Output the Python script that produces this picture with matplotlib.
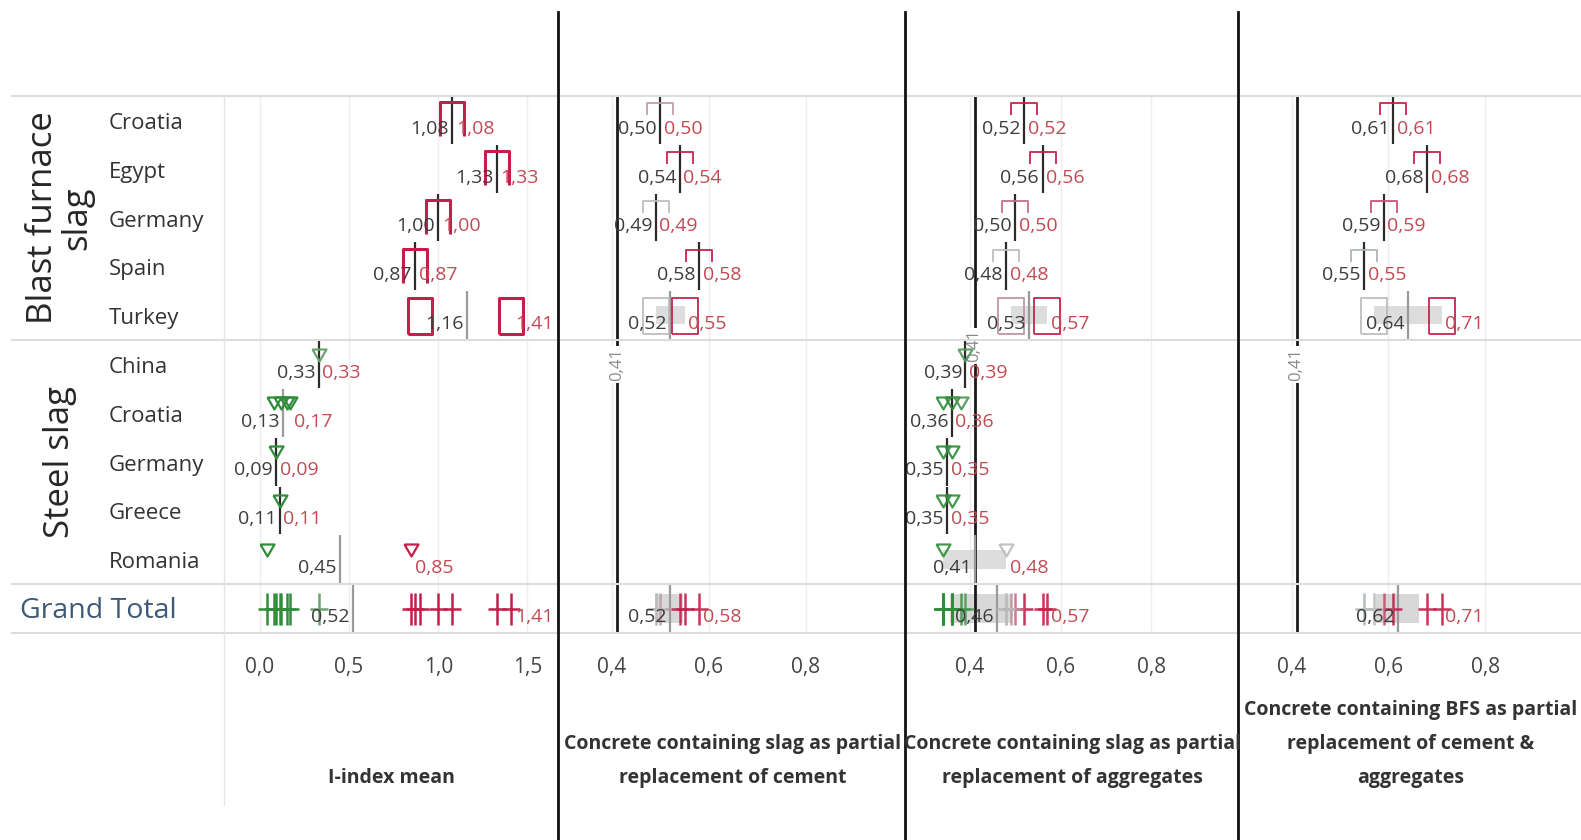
import numpy as np
import matplotlib
matplotlib.use("Agg")
import matplotlib.pyplot as plt
from matplotlib.path import Path
from matplotlib.colors import LinearSegmentedColormap, TwoSlopeNorm
from matplotlib.lines import Line2D
from matplotlib.ticker import FuncFormatter

W, H = 1581, 840
plt.rcParams["font.family"] = ["Open Sans", "DejaVu Sans"]

# ---------------------------------------------------------------- data
countries = ["Croatia", "Egypt", "Germany", "Spain", "Turkey",
             "China", "Croatia", "Germany", "Greece", "Romania"]
groups = ["Blast furnace\nslag", "Steel slag"]
group_sizes = [5, 5]
total_label = "Grand Total"

panel_titles = [
    "I-index mean",
    "Concrete containing slag as partial\nreplacement of cement",
    "Concrete containing slag as partial\nreplacement of aggregates",
    "Concrete containing BFS as partial\nreplacement of cement &\naggregates",
]

# individual study values, one list per country row
iindex_points = [[1.08], [1.33], [1.00], [0.87], [0.90, 1.41],
                 [0.33], [0.08, 0.12, 0.15, 0.17], [0.09], [0.11], [0.04, 0.85]]
cement_points = [[0.50], [0.54], [0.49], [0.58], [0.49, 0.55],
                 [], [], [], [], []]
aggregate_points = [[0.52], [0.56], [0.50], [0.48], [0.49, 0.57],
                    [0.39], [0.34, 0.36, 0.38], [0.34, 0.36], [0.34, 0.36], [0.34, 0.48]]
bfs_points = [[0.61], [0.68], [0.59], [0.55], [0.57, 0.71],
              [], [], [], [], []]

nan = np.nan
# mean (left label) and max (right label) per row, last entry = Grand Total
iindex_mean = [1.08, 1.33, 1.00, 0.87, 1.16, 0.33, 0.13, 0.09, 0.11, 0.45, 0.52]
iindex_max = [1.08, 1.33, 1.00, 0.87, 1.41, 0.33, 0.17, 0.09, 0.11, 0.85, 1.41]
cement_mean = [0.50, 0.54, 0.49, 0.58, 0.52, nan, nan, nan, nan, nan, 0.52]
cement_max = [0.50, 0.54, 0.49, 0.58, 0.55, nan, nan, nan, nan, nan, 0.58]
aggregate_mean = [0.52, 0.56, 0.50, 0.48, 0.53, 0.39, 0.36, 0.35, 0.35, 0.41, 0.46]
aggregate_max = [0.52, 0.56, 0.50, 0.48, 0.57, 0.39, 0.36, 0.35, 0.35, 0.48, 0.57]
bfs_mean = [0.61, 0.68, 0.59, 0.55, 0.64, nan, nan, nan, nan, nan, 0.62]
bfs_max = [0.61, 0.68, 0.59, 0.55, 0.71, nan, nan, nan, nan, nan, 0.71]

reference_value = 0.41

ticks_iindex = [0.0, 0.5, 1.0, 1.5]
ticks_concrete = [0.4, 0.6, 0.8]

# ---------------------------------------------------------------- layout (pixels)
ROW_TOP, ROW_BOTTOM = 96, 633
panel_x = [(224, 558), (560, 905), (907, 1238), (1240, 1581)]
panel_xlim = [(-0.202, 1.672), (0.2926, 1.005), (0.261, 0.991), (0.293, 0.998)]
# row position of the rotated reference-value label in each concrete panel
ref_label_row = [None, 5.0, 4.62, 5.0]
color_norms = [
    TwoSlopeNorm(vmin=0.20, vcenter=0.50, vmax=0.85),
    TwoSlopeNorm(vmin=0.30, vcenter=0.49, vmax=0.54),
    TwoSlopeNorm(vmin=0.36, vcenter=0.48, vmax=0.52),
    TwoSlopeNorm(vmin=0.40, vcenter=0.57, vmax=0.60),
]
cmap = LinearSegmentedColormap.from_list("slag", ["#2f8d3a", "#bdbdbd", "#c41e4a"])


def fx(x):
    return x / W


def fy(y):
    return 1 - y / H


def marker(verts, codes=None):
    """Custom marker path given in pixel units; returns path and markersize."""
    v = np.asarray(verts, float)
    ms = 2 * np.abs(v).max() * 72 / 100
    return Path(v, codes), ms


rect_p1 = marker([(-12, -18), (12, -18), (12, 18), (-12, 18), (-12, -18)])
open_p1 = marker([(-12, -16), (-12, 18), (12, 18), (12, -16)])
bracket = marker([(-13, 5), (-13, 17), (13, 17), (13, 5)])
box = marker([(-13, -18), (13, -18), (13, 18), (-13, 18), (-13, -18)])
tri = marker([(-7, 16), (7, 16), (0, 4), (-7, 16)])
plus = marker([(0, -16), (0, 16), (-9, 0), (9, 0)],
              [Path.MOVETO, Path.LINETO, Path.MOVETO, Path.LINETO])

fig = plt.figure(figsize=(W / 100, H / 100), dpi=100)
fig.patch.set_facecolor("white")

n_rows = len(countries) + 1
panels = [
    (iindex_points, iindex_mean, iindex_max, ticks_iindex),
    (cement_points, cement_mean, cement_max, ticks_concrete),
    (aggregate_points, aggregate_mean, aggregate_max, ticks_concrete),
    (bfs_points, bfs_mean, bfs_max, ticks_concrete),
]

comma = FuncFormatter(lambda v, _: f"{v:.1f}".replace(".", ","))
LABEL_DY = -6.0
dark_txt = "#3c3c3c"
red_txt = "#c24a52"

for p, (points, means, maxes, ticks) in enumerate(panels):
    x0, x1 = panel_x[p]
    ax = fig.add_axes([fx(x0), fy(ROW_BOTTOM), fx(x1 - x0), (ROW_BOTTOM - ROW_TOP) / H])
    ax.set_xlim(*panel_xlim[p])
    ax.set_ylim(n_rows - 0.5, -0.5)
    for s in ax.spines.values():
        s.set_visible(False)
    ax.set_yticks([])
    ax.set_xticks(ticks)
    ax.xaxis.set_major_formatter(comma)
    ax.tick_params(axis="x", length=0, pad=17, labelsize=15, labelcolor="#444444")
    ax.grid(axis="x", color="#eeeeee", lw=1)
    ax.set_axisbelow(True)
    norm = color_norms[p]

    if p > 0:
        ax.axvline(reference_value, color="#1a1a1a", lw=2, zorder=2)
        ax.text(reference_value, ref_label_row[p], f"{reference_value:.2f}".replace(".", ","),
                rotation=90, ha="center", va="center", fontsize=12, color="#8a8a8a",
                bbox=dict(boxstyle="square,pad=0.1", fc="white", ec="none"), zorder=3)

    for r in range(n_rows):
        is_total = r == n_rows - 1
        pts = sum(points, []) if is_total else points[r]
        mean, mx = means[r], maxes[r]
        if np.isnan(mean):
            continue
        spread = mx > mean + 1e-9
        steel = (not is_total) and r >= group_sizes[0]

        # shaded range for rows with several studies
        if p > 0 and spread:
            if is_total:
                lo, hi = np.percentile(pts, [25, 75])
                ax.fill_between([lo, hi], r - 0.3, r + 0.3, color="#bfbfbf", alpha=0.6,
                                lw=0, zorder=1)
            else:
                ax.fill_between([min(pts), max(pts)], r - 0.2, r + 0.18, color="#cfcfcf",
                                alpha=0.7, lw=0, zorder=1)

        # per-row mean line
        line_col = "#9a9a9a" if spread else "#2e2a2c"
        ax.vlines(mean, r - 0.5, r + 0.48, color=line_col, lw=1.6, zorder=3)

        # study marks
        for v in pts:
            col = cmap(norm(v))
            if is_total:
                path, ms = plus
                lw = 1.8
            elif steel:
                path, ms = tri
                lw = 1.6
            elif p == 0:
                path, ms = rect_p1 if spread else open_p1
                lw = 2.2
            else:
                path, ms = box if spread else bracket
                lw = 1.4
            ax.plot([v], [r], ls="none", marker=path, ms=ms, mfc="none", mec=col,
                    mew=lw, alpha=0.9 if p > 0 else 1.0, zorder=4)

        # value labels
        ax.annotate(f"{mean:.2f}".replace(".", ","), (mean, r), xytext=(-2.5, LABEL_DY),
                    textcoords="offset points", ha="right", va="center", fontsize=14,
                    color=dark_txt, zorder=5)
        ax.annotate(f"{mx:.2f}".replace(".", ","), (mx, r), xytext=(2.5, LABEL_DY),
                    textcoords="offset points", ha="left", va="center", fontsize=14,
                    color=red_txt, zorder=5)

    # panel title under the axis
    fig.text(fx((x0 + x1) / 2), fy(788), panel_titles[p], ha="center", va="bottom",
             fontsize=14, fontweight="bold", color="#333333", linespacing=1.95,
             multialignment="center")

# ---------------------------------------------------------------- row headers
row_h = (ROW_BOTTOM - ROW_TOP) / n_rows
for i, name in enumerate(countries):
    yc = ROW_TOP + (i + 0.5) * row_h + 3
    fig.text(fx(109), fy(yc), name, ha="left", va="center", fontsize=16, color="#333333")

start = 0
for g, size in zip(groups, group_sizes):
    yc = ROW_TOP + (start + size / 2) * row_h
    fig.text(fx(60), fy(yc), g, ha="center", va="center", rotation=90, fontsize=25,
             color="#262626", multialignment="center", linespacing=1.0)
    start += size

fig.text(fx(20), fy(ROW_TOP + (n_rows - 0.5) * row_h + 2), total_label, ha="left",
         va="center", fontsize=20.5, color="#3d5a78")

# ---------------------------------------------------------------- separators
sep_rows = [0, group_sizes[0], group_sizes[0] + group_sizes[1], n_rows]
for k in sep_rows:
    y = ROW_TOP + k * row_h
    fig.add_artist(Line2D([fx(12), 1], [fy(y), fy(y)], color="#dddddd", lw=1.5))
fig.add_artist(Line2D([fx(224), fx(224)], [fy(ROW_TOP), fy(805)], color="#e6e6e6", lw=1))
for xb in (558, 905, 1238):
    fig.add_artist(Line2D([fx(xb), fx(xb)], [fy(12), 0], color="#111111", lw=2))

fig.savefig("out.png", dpi=100, facecolor="white")
